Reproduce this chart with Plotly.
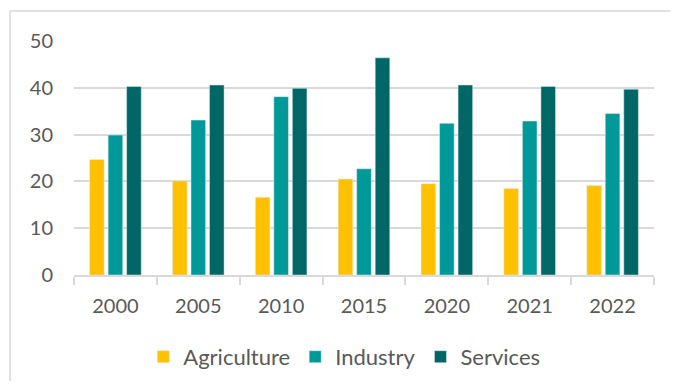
import plotly.graph_objects as go

years = ["2000", "2005", "2010", "2015", "2020", "2021", "2022"]
agriculture = [24.7, 20.1, 16.6, 20.5, 19.5, 18.5, 19.1]
industry = [29.9, 33.1, 38.1, 22.7, 32.4, 32.9, 34.5]
services = [40.3, 40.6, 39.9, 46.4, 40.6, 40.3, 39.7]

grey = "#d9d9d9"
txt = "#595959"

fig = go.Figure()
fig.add_trace(go.Bar(x=years, y=agriculture, name="Agriculture", marker_color="#ffc000"))
fig.add_trace(go.Bar(x=years, y=industry, name="Industry", marker_color="#009999"))
fig.add_trace(go.Bar(x=years, y=services, name="Services", marker_color="#006666"))

# page body has an 8px margin; keep the figure small enough to avoid scrollbars
fig.update_layout(
    width=670, height=373,
    margin=dict(l=66, r=24, t=33, b=106, autoexpand=False),
    paper_bgcolor="white", plot_bgcolor="white",
    font=dict(family="Lato", size=20, color=txt),
    barmode="group", bargap=0.33, bargroupgap=0.21,
    legend=dict(orientation="h", x=0.466, xanchor="center", y=-0.35, yanchor="middle",
                font=dict(size=22, color=txt), itemwidth=30, traceorder="normal"),
    showlegend=True,
    # chart frame: only its left and top edges fall inside the window
    shapes=[
        dict(type="line", xref="paper", yref="paper", x0=-0.1103, x1=-0.1103, y0=-1.5, y1=1.128,
             line=dict(color=grey, width=1.5), layer="below"),
        dict(type="line", xref="paper", yref="paper", x0=-0.1103, x1=1.5, y0=1.128, y1=1.128,
             line=dict(color=grey, width=1.5), layer="below"),
    ],
)
fig.update_yaxes(range=[0, 50], dtick=10, showgrid=True, gridcolor=grey, gridwidth=1.5,
                 zeroline=False, showline=False, ticks="", ticklabelstandoff=20)
fig.update_xaxes(showline=True, linecolor=grey, linewidth=1.5, ticks="outside",
                 tickson="boundaries", ticklen=8, tickcolor=grey, tickwidth=1.5,
                 ticklabelstandoff=12)

fig.write_html("out.html")
